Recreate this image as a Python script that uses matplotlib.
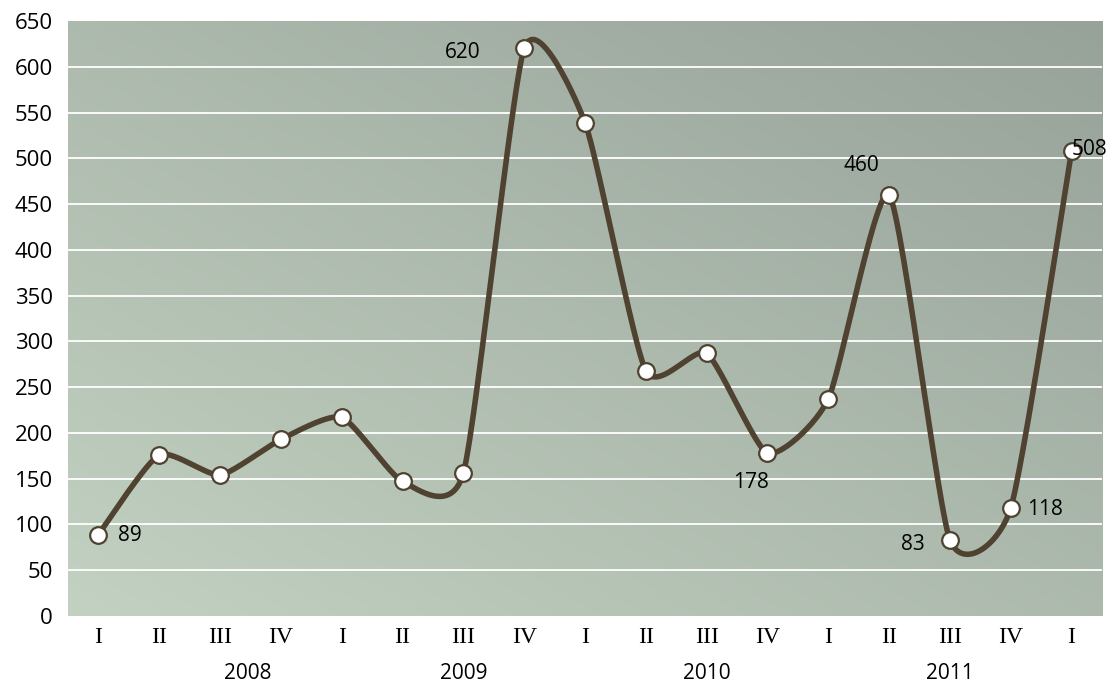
import numpy as np
import matplotlib
matplotlib.use('Agg')
import matplotlib.pyplot as plt
from matplotlib.colors import LinearSegmentedColormap

quarters = ['I', 'II', 'III', 'IV', 'I', 'II', 'III', 'IV', 'I',
            'II', 'III', 'IV', 'I', 'II', 'III', 'IV', 'I']
values = [89, 176, 154, 193, 217, 147, 156, 620, 539,
          268, 287, 178, 237, 460, 83, 118, 508]
years = ['2008', '2009', '2010', '2011']
year_pos = [2.45, 6.0, 10.0, 14.0]

# which points get a label and where (offset in points)
labels = {0: (23, -1), 7: (-44, -3), 11: (-12, -21), 13: (-20, 21),
          14: (-27, -3), 15: (25, -1), 16: (13, 1)}

line_col = '#4f4230'

def smooth(x, y, n=30, k=10.0):
    # excel-like smoothed line (bezier through the points)
    x = np.asarray(x, float)
    y = np.asarray(y, float)
    px = np.concatenate([[x[0]], x, [x[-1]]])
    py = np.concatenate([[y[0]], y, [y[-1]]])
    xs, ys = [], []
    t = np.linspace(0, 1, n)
    for i in range(1, len(px) - 2):
        p0 = np.array([px[i], py[i]])
        p3 = np.array([px[i + 1], py[i + 1]])
        c1 = p0 + (np.array([px[i + 1], py[i + 1]]) - np.array([px[i - 1], py[i - 1]])) / k
        c2 = p3 - (np.array([px[i + 2], py[i + 2]]) - np.array([px[i], py[i]])) / k
        b = ((1 - t) ** 3)[:, None] * p0 + (3 * (1 - t) ** 2 * t)[:, None] * c1 \
            + (3 * (1 - t) * t ** 2)[:, None] * c2 + (t ** 3)[:, None] * p3
        xs.extend(b[:, 0])
        ys.extend(b[:, 1])
    return np.array(xs), np.array(ys)

fig = plt.figure(figsize=(11.11, 6.83), dpi=100)
ax = fig.add_axes([0.0612, 0.0981, 0.9307, 0.8712])

x = np.arange(len(values))
ax.set_xlim(-0.5, len(values) - 0.5)
ax.set_ylim(0, 650)

# diagonal gradient background
gx, gy = np.meshgrid(np.linspace(0, 1, 200), np.linspace(0, 1, 200))
grad = (gx + gy) / 2
cmap = LinearSegmentedColormap.from_list('bg', ['#c2d1c1', '#97a299'])
ax.imshow(grad, cmap=cmap, origin='lower', aspect='auto',
          extent=[-0.5, len(values) - 0.5, 0, 650], zorder=0)

for v in range(50, 650, 50):
    ax.axhline(v, color='white', lw=1.3, zorder=1)

sx, sy = smooth(x, values)
ax.plot(sx, sy, color=line_col, lw=4.0, zorder=2, solid_capstyle='round')
ax.plot(x, values, 'o', ms=12, mfc='white', mec=line_col, mew=1.6, zorder=3)

for i, (dx, dy) in labels.items():
    ax.annotate(str(values[i]), (x[i], values[i]), xytext=(dx, dy),
                textcoords='offset points', ha='center', va='center',
                fontsize=15, family='Open Sans', color='black', zorder=4)

for s in ax.spines.values():
    s.set_visible(False)
ax.set_yticks(range(0, 651, 50))
ax.set_yticklabels([str(v) for v in range(0, 651, 50)], fontsize=16, family='Open Sans')
ax.tick_params(axis='y', length=0, pad=11)
ax.set_xticks(x)
ax.set_xticklabels(quarters, fontsize=17, family='Liberation Serif')
ax.tick_params(axis='x', length=0, pad=8)

for yr, p in zip(years, year_pos):
    ax.text(p, -0.097, yr, transform=ax.get_xaxis_transform(), ha='center', va='center',
            fontsize=15, family='Open Sans')

fig.savefig('out.png', dpi=100)
